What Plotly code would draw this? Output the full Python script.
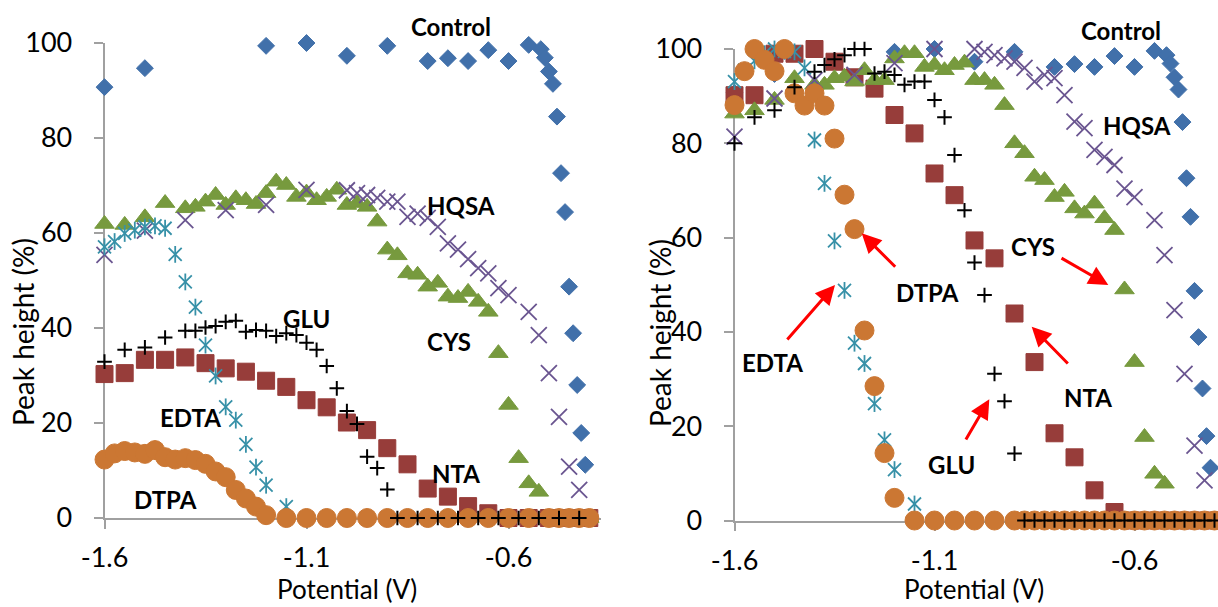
import plotly.graph_objects as go

FIG_W, FIG_H = 1218, 607

# ---------------- potential sweeps (V) ----------------
V_CONTROL = [-1.6, -1.5, -1.2, -1.1, -1.0, -0.9, -0.8, -0.75, -0.7, -0.65, -0.6,
             -0.55, -0.52, -0.51, -0.50, -0.49, -0.48, -0.47, -0.46, -0.45,
             -0.44, -0.43, -0.42, -0.41]

V_CYS = [-1.6, -1.55, -1.5, -1.45,
         -1.4, -1.375, -1.35, -1.325, -1.3, -1.275, -1.25, -1.225, -1.2, -1.175,
         -1.15, -1.125, -1.1, -1.075, -1.05, -1.025, -1.0, -0.975, -0.95, -0.925,
         -0.9, -0.875, -0.85, -0.825, -0.8, -0.775, -0.75, -0.725, -0.7, -0.675,
         -0.65, -0.625, -0.6, -0.575, -0.55, -0.525, -0.5, -0.475, -0.45, -0.425, -0.4]

V_HQSA = [-1.6, -1.5, -1.4, -1.3, -1.2, -1.1, -1.0, -0.975, -0.95, -0.925, -0.9,
          -0.875, -0.85, -0.825, -0.8, -0.775, -0.75, -0.725, -0.7, -0.675, -0.65,
          -0.625, -0.6, -0.55, -0.525, -0.5, -0.475, -0.45, -0.425]

V_NTA = [-1.6, -1.55, -1.5, -1.45, -1.4, -1.35, -1.3, -1.25, -1.2, -1.15, -1.1,
         -1.05, -1.0, -0.95, -0.9, -0.85, -0.8, -0.75, -0.7, -0.65, -0.6, -0.55,
         -0.5, -0.45, -0.4]

V_L_CHELATE = [-1.6, -1.575, -1.55, -1.525, -1.5, -1.475, -1.45, -1.425, -1.4,
               -1.375, -1.35, -1.325, -1.3, -1.275, -1.25, -1.225, -1.2,
               -1.15, -1.1, -1.05, -1.0, -0.95, -0.9, -0.85, -0.8, -0.75, -0.7,
               -0.65, -0.6, -0.55, -0.5, -0.475, -0.45, -0.425, -0.4]

V_L_GLU = [-1.6, -1.55, -1.5, -1.45,
           -1.4, -1.375, -1.35, -1.325, -1.3, -1.275, -1.25, -1.225, -1.2, -1.175,
           -1.15, -1.125, -1.1, -1.075, -1.05, -1.025, -1.0, -0.975, -0.95, -0.925,
           -0.9, -0.875, -0.825, -0.775, -0.725, -0.675, -0.625, -0.575, -0.525,
           -0.475, -0.425]

V_R_DTPA = [-1.6, -1.575, -1.55, -1.525, -1.5, -1.475, -1.45, -1.425, -1.4,
            -1.375, -1.35, -1.325, -1.3, -1.275, -1.25, -1.225, -1.2,
            -1.15, -1.1, -1.05, -1.0, -0.95, -0.9,
            -0.875, -0.85, -0.825, -0.8, -0.775, -0.75, -0.725, -0.7, -0.675, -0.65,
            -0.625, -0.6, -0.575, -0.55, -0.525, -0.5, -0.475, -0.45, -0.425, -0.4]

V_R_EDTA = [-1.6, -1.575, -1.55, -1.525, -1.5, -1.475, -1.45, -1.425, -1.4,
            -1.375, -1.35, -1.325, -1.3, -1.275, -1.25, -1.225, -1.2,
            -1.15, -1.1, -1.05, -1.0, -0.95, -0.9, -0.85, -0.8, -0.75, -0.7,
            -0.65, -0.6, -0.55, -0.5, -0.45, -0.4]

# ---------------- peak heights (%) ----------------
CONTROL = [90.7, 94.7, 99.4, 100.0, 97.3, 99.4, 96.2, 96.8, 96.2, 98.5, 96.2,
           99.6, 98.7, 96.9, 94.0, 91.4, 84.5, 72.6, 64.4, 48.7, 38.9, 28.0, 17.9, 11.2]

# left panel
L_NTA = [30.3, 30.5, 33.3, 33.3, 33.8, 32.6, 31.5, 30.8, 28.9, 27.6, 24.8, 23.3,
         20.1, 18.5, 14.7, 11.3, 6.2, 4.5, 2.5, 1.0, 0, 0, 0, 0, 0]
L_CYS = [61.9, 61.7, 63.3, 66.3,
         65.2, 65.5, 66.6, 68.0, 65.9, 67.3, 66.9, 66.1, 68.4, 70.8,
         70.1, 67.6, 68.5, 66.9, 67.6, 69.1, 65.9, 66.3, 65.5, 62.4,
         56.5, 55.3, 51.5, 51.2, 48.7, 49.5, 46.6, 46.3, 47.6, 45.5,
         43.4, 34.7, 23.8, 12.6, 7.3, 5.5, 0, 0, 0, 0, 0]
L_HQSA = [55.4, 60.5, 62.7, 64.8, 65.9, 69.1, 69.0, 68.4, 68.0, 67.4, 66.6,
          66.6, 63.4, 64.1, 63.2, 61.3, 57.8, 56.5, 54.5, 52.6, 51.5,
          48.4, 46.9, 43.4, 38.5, 30.5, 21.3, 10.8, 5.9]
L_EDTA = [57.1, 58.2, 59.9, 60.6, 61.3, 61.5, 61.0, 55.5, 49.7, 44.4, 36.4, 29.9,
          23.4, 20.6, 15.5, 10.7, 6.9, 2.4, 0, 0, 0, 0, 0, 0, 0, 0, 0, 0, 0, 0,
          0, 0, 0, 0, 0]
L_DTPA = [12.3, 13.6, 14.1, 13.8, 13.5, 14.3, 12.8, 12.3, 12.6, 12.2, 11.4, 9.8,
          8.6, 5.9, 4.1, 2.4, 0.6, 0, 0, 0, 0, 0, 0, 0, 0, 0, 0, 0, 0, 0, 0, 0,
          0, 0, 0]
L_GLU = [32.9, 35.4, 35.9, 38.0,
         39.4, 39.4, 40.1, 40.4, 41.3, 41.5, 39.2, 39.6, 39.4, 38.3,
         38.9, 38.5, 36.9, 35.4, 32.0, 27.3, 22.5, 19.8, 12.9, 10.5,
         6.0, 0, 0, 0, 0, 0, 0, 0, 0, 0, 0]

# right panel
R_NTA = [90.2, 90.2, 99.0, 99.0, 100.0, 97.3, 94.0, 91.6, 86.0, 82.1, 73.6, 69.0,
         59.4, 55.6, 43.9, 33.6, 18.5, 13.4, 6.4, 1.8, 0, 0, 0, 0, 0]
R_CYS = [86.3, 87.0, 89.2, 93.8,
         92.4, 92.4, 93.8, 94.1, 93.1, 95.5, 93.4, 93.4, 98.0, 99.1,
         99.1, 96.2, 96.6, 95.5, 96.6, 97.1, 93.4, 93.4, 92.4, 88.1,
         80.0, 77.9, 72.9, 72.2, 68.6, 69.7, 66.2, 65.1, 67.2, 64.1,
         61.6, 49.0, 33.6, 17.7, 9.9, 7.8, 0, 0, 0, 0, 0]
R_HQSA = [81.4, 89.5, 93.4, 94.5, 97.0, 100.0, 100.0, 99.4, 98.7, 98.0, 97.3,
          96.0, 93.1, 94.5, 93.8, 90.2, 84.6, 83.2, 78.6, 77.1, 75.4,
          70.4, 68.6, 63.7, 56.3, 44.6, 31.1, 15.9, 8.5]
R_EDTA = [93.1, 95.5, 97.5, 99.0, 100.0, 99.5, 99.4, 96.0, 80.7, 71.5, 59.3, 48.8,
          37.6, 33.3, 24.8, 17.1, 10.8, 3.5, 0, 0, 0, 0, 0, 0, 0, 0, 0, 0, 0, 0,
          0, 0, 0]
R_DTPA = [88.1, 95.3, 100.0, 97.7, 95.3, 100.0, 90.6, 88.0, 90.6, 88.0, 81.0, 69.1,
          61.8, 40.3, 28.5, 14.3, 4.8, 0, 0, 0, 0, 0, 0, 0, 0, 0, 0, 0, 0, 0, 0,
          0, 0, 0, 0, 0, 0, 0, 0, 0, 0, 0, 0]
R_GLU = [80.0, 85.5, 87.0, 91.9,
         95.2, 96.6, 97.8, 98.7, 100.0, 100.0, 94.8, 95.2, 94.5, 92.4,
         93.1, 93.1, 89.2, 85.5, 77.5, 65.8, 54.7, 47.8, 31.1, 25.3,
         14.2, 0, 0, 0, 0, 0, 0, 0, 0, 0, 0, 0, 0, 0, 0, 0, 0, 0, 0, 0, 0]

PEAK_TICKS = [0, 20, 40, 60, 80, 100]
POT_TICKS = [-1.6, -1.1, -0.6]
POT_TICK_TEXT = ["-1.6", "-1.1", "-0.6"]

# ---------------- styling ----------------
FONT = "Lato"
AXIS_GREY = "#A0A0A0"
COLORS = {
    "Control": "#4170AA",
    "NTA": "#973D3A",
    "CYS": "#779A3E",
    "HQSA": "#6A5590",
    "EDTA": "#3791A8",
    "DTPA": "#CB7733",
    "GLU": "#000000",
}


def fx(px):
    return px / FIG_W


def fy(py):
    return 1 - py / FIG_H


fig = go.Figure()


def filled(v, h, name, symbol, size, xa, ya):
    fig.add_trace(go.Scatter(
        x=v, y=h, mode="markers", name=name, xaxis=xa, yaxis=ya,
        cliponaxis=False, showlegend=False,
        marker=dict(symbol=symbol, size=size, color=COLORS[name],
                    line=dict(width=1, color=COLORS[name]))))


def stroked(v, h, name, symbol, size, width, xa, ya):
    fig.add_trace(go.Scatter(
        x=v, y=h, mode="markers", name=name, xaxis=xa, yaxis=ya,
        cliponaxis=False, showlegend=False,
        marker=dict(symbol=symbol, size=size, color=COLORS[name],
                    line=dict(width=width, color=COLORS[name]))))


def panel(xa, ya, ctrl, nta, v_nta, cys, hqsa, edta, v_edta, dtpa, v_dtpa, glu, v_glu):
    filled(V_CONTROL, ctrl, "Control", "diamond", 13, xa, ya)
    filled(v_nta, nta, "NTA", "square", 17, xa, ya)
    filled(V_CYS, cys, "CYS", "triangle-up", 17, xa, ya)
    stroked(V_HQSA, hqsa, "HQSA", "x-thin-open", 16, 1.8, xa, ya)
    # star marker: diagonal cross plus a vertical bar
    stroked(v_edta, edta, "EDTA", "x-thin-open", 13, 1.8, xa, ya)
    stroked(v_edta, edta, "EDTA", "line-ns-open", 12, 1.8, xa, ya)
    filled(v_dtpa, dtpa, "DTPA", "circle", 19, xa, ya)
    stroked(v_glu, glu, "GLU", "cross-thin-open", 10.5, 2, xa, ya)


panel("x", "y", CONTROL, L_NTA, V_NTA, L_CYS, L_HQSA, L_EDTA, V_L_CHELATE,
      L_DTPA, V_L_CHELATE, L_GLU, V_L_GLU)
panel("x2", "y2", CONTROL, R_NTA, V_NTA, R_CYS, R_HQSA, R_EDTA, V_R_EDTA,
      R_DTPA, V_R_DTPA, R_GLU, V_CYS)

tick_font = dict(family=FONT, size=27, color="#000000")
x_common = dict(showline=True, linecolor=AXIS_GREY, linewidth=1.75,
                ticks="outside", ticklen=9, tickwidth=1.75, tickcolor=AXIS_GREY,
                showgrid=False, zeroline=False, layer="below traces",
                tickvals=POT_TICKS, ticktext=POT_TICK_TEXT, tickfont=tick_font,
                ticklabelstandoff=6, automargin=False, fixedrange=True)
y_common = dict(showline=True, linecolor=AXIS_GREY, linewidth=1.75,
                ticks="outside", ticklen=9, tickwidth=1.75, tickcolor=AXIS_GREY,
                showgrid=False, zeroline=False, layer="below traces",
                range=[0, 100], tickvals=PEAK_TICKS, tickfont=tick_font,
                ticklabelstandoff=16, automargin=False, fixedrange=True)

L_LEFT, L_RIGHT, L_BOTTOM, L_TOP = 104.5, 601.4, 518.0, 43.0
R_LEFT, R_RIGHT, R_BOTTOM, R_TOP = 734.5, 1218.0, 520.5, 49.0
L_PX_PER_V = 404.0
R_PX_PER_V = 400.0

fig.update_layout(
    width=FIG_W, height=FIG_H,
    margin=dict(l=0, r=0, t=0, b=0, autoexpand=False),
    paper_bgcolor="white", plot_bgcolor="white",
    xaxis=dict(domain=[fx(L_LEFT), fx(L_RIGHT)], anchor="y",
               range=[-1.6, -1.6 + (L_RIGHT - L_LEFT) / L_PX_PER_V], **x_common),
    yaxis=dict(domain=[fy(L_BOTTOM), fy(L_TOP)], anchor="x", **y_common),
    xaxis2=dict(domain=[fx(R_LEFT), fx(R_RIGHT)], anchor="y2",
                range=[-1.6, -1.6 + (R_RIGHT - R_LEFT) / R_PX_PER_V], **x_common),
    yaxis2=dict(domain=[fy(R_BOTTOM), fy(R_TOP)], anchor="x2", **y_common),
)

annotations = []


def centred_text(text, cx, cy, size, angle=0):
    return dict(text=text, x=fx(cx), y=fy(cy), xref="paper", yref="paper",
                xanchor="center", yanchor="middle", showarrow=False,
                textangle=angle, font=dict(family=FONT, size=size, color="#000000"))


# axis titles
for cx in (347, 974):
    annotations.append(centred_text("Potential (V)", cx, 589, 26))
for cx, cy in ((23, 332), (660, 333)):
    annotations.append(centred_text("Peak height (%)", cx, cy, 28, angle=-90))

# series labels
LABELS = [
    ("Control", 451, 26), ("HQSA", 461, 205), ("GLU", 306, 318),
    ("EDTA", 190, 417), ("DTPA", 165, 499), ("CYS", 449, 341), ("NTA", 456, 473),
    ("Control", 1121, 30), ("HQSA", 1137, 125), ("CYS", 1033, 247),
    ("DTPA", 927, 292), ("EDTA", 772, 362), ("NTA", 1088, 397), ("GLU", 951, 464),
]
for text, cx, cy in LABELS:
    annotations.append(centred_text("<b>%s</b>" % text, cx, cy, 24))

# red pointer arrows in the right panel: (head x, head y, tail x, tail y)
ARROWS = [
    (861.7, 233.3, 896.7, 268.3),
    (835.0, 285.0, 786.0, 341.0),
    (1108.3, 285.0, 1060.0, 257.3),
    (1031.7, 326.7, 1069.3, 365.0),
    (989.3, 399.3, 965.0, 441.0),
]
for hx, hy, tx, ty in ARROWS:
    annotations.append(dict(text="", x=fx(hx), y=fy(hy), xref="paper", yref="paper",
                            showarrow=True, ax=tx - hx, ay=ty - hy,
                            arrowhead=2, arrowsize=1.3, arrowwidth=3,
                            arrowcolor="#FF0000", standoff=0, startstandoff=0))

fig.update_layout(annotations=annotations)

fig.write_html("out.html")
